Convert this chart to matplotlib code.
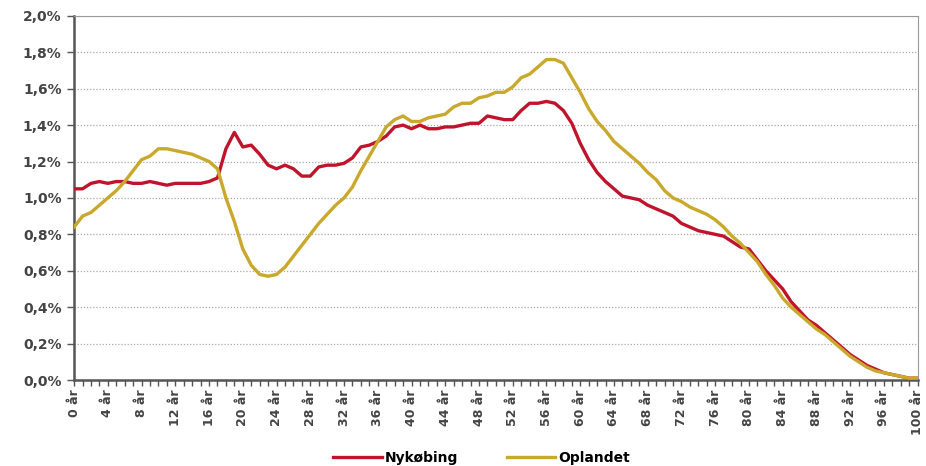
import matplotlib.pyplot as plt
from matplotlib.ticker import MultipleLocator, FuncFormatter

# Andel af befolkningen pr. alderstrin (%), 0-100 år
ages = list(range(0, 101))

nykobing = [
    1.05, 1.05, 1.08, 1.09, 1.08, 1.09, 1.09, 1.08, 1.08, 1.09,
    1.08, 1.07, 1.08, 1.08, 1.08, 1.08, 1.09, 1.11, 1.27, 1.36,
    1.28, 1.29, 1.24, 1.18, 1.16, 1.18, 1.16, 1.12, 1.12, 1.17,
    1.18, 1.18, 1.19, 1.22, 1.28, 1.29, 1.31, 1.34, 1.39, 1.40,
    1.38, 1.40, 1.38, 1.38, 1.39, 1.39, 1.40, 1.41, 1.41, 1.45,
    1.44, 1.43, 1.43, 1.48, 1.52, 1.52, 1.53, 1.52, 1.48, 1.41,
    1.30, 1.21, 1.14, 1.09, 1.05, 1.01, 1.00, 0.99, 0.96, 0.94,
    0.92, 0.90, 0.86, 0.84, 0.82, 0.81, 0.80, 0.79, 0.76, 0.73,
    0.72, 0.66, 0.60, 0.55, 0.50, 0.43, 0.38, 0.33, 0.30, 0.26,
    0.22, 0.18, 0.14, 0.11, 0.08, 0.06, 0.04, 0.03, 0.02, 0.01,
    0.01,
]

oplandet = [
    0.84, 0.90, 0.92, 0.96, 1.00, 1.04, 1.09, 1.15, 1.21, 1.23,
    1.27, 1.27, 1.26, 1.25, 1.24, 1.22, 1.20, 1.16, 1.00, 0.87,
    0.72, 0.63, 0.58, 0.57, 0.58, 0.62, 0.68, 0.74, 0.80, 0.86,
    0.91, 0.96, 1.00, 1.06, 1.15, 1.23, 1.31, 1.39, 1.43, 1.45,
    1.42, 1.42, 1.44, 1.45, 1.46, 1.50, 1.52, 1.52, 1.55, 1.56,
    1.58, 1.58, 1.61, 1.66, 1.68, 1.72, 1.76, 1.76, 1.74, 1.66,
    1.58, 1.49, 1.42, 1.37, 1.31, 1.27, 1.23, 1.19, 1.14, 1.10,
    1.04, 1.00, 0.98, 0.95, 0.93, 0.91, 0.88, 0.84, 0.79, 0.75,
    0.70, 0.65, 0.58, 0.52, 0.45, 0.40, 0.36, 0.32, 0.28, 0.25,
    0.21, 0.17, 0.13, 0.10, 0.07, 0.05, 0.04, 0.03, 0.02, 0.01,
    0.01,
]

RED = "#c0142c"
GOLD = "#c9a82c"
GREY = "#555555"

fig = plt.figure(figsize=(9.26, 4.66), dpi=100)
ax = fig.add_axes([0.080, 0.1845, 0.911, 0.7815])

ax.plot(ages, nykobing, color=RED, lw=2.4, label="Nykøbing", zorder=3)
ax.plot(ages, oplandet, color=GOLD, lw=2.4, label="Oplandet", zorder=3)

ax.set_xlim(0, 100)
ax.set_ylim(0, 2.0)

ax.xaxis.set_major_locator(MultipleLocator(4))
ax.xaxis.set_minor_locator(MultipleLocator(1))
ax.xaxis.set_major_formatter(FuncFormatter(lambda v, p: f"{int(v)} år"))
ax.yaxis.set_major_locator(MultipleLocator(0.2))
ax.yaxis.set_major_formatter(FuncFormatter(lambda v, p: f"{v:.1f}%".replace(".", ",")))

ax.tick_params(axis="x", which="both", direction="out", length=4, width=1, color=GREY,
               labelrotation=90, labelsize=9, labelcolor="#444444", pad=3)
ax.tick_params(axis="y", direction="out", length=5, width=1, color=GREY,
               labelsize=10, labelcolor="#444444", pad=4)
for lbl in ax.get_xticklabels() + ax.get_yticklabels():
    lbl.set_fontweight("bold")

ax.grid(axis="y", color="#aaaaaa", linestyle=(0, (1, 1.5)), lw=0.9)
ax.set_axisbelow(True)

ax.spines["left"].set_color(GREY)
ax.spines["left"].set_linewidth(1.8)
ax.spines["bottom"].set_color(GREY)
ax.spines["bottom"].set_linewidth(1.8)
ax.spines["top"].set_color("#999999")
ax.spines["right"].set_color("#999999")

fig.legend(loc="center", bbox_to_anchor=(0.52, 0.018), ncol=2, frameon=False,
           fontsize=10, handlelength=3.5, columnspacing=3.5, handletextpad=0.2,
           prop={"weight": "bold", "size": 10})

fig.savefig("out.png", dpi=100)
